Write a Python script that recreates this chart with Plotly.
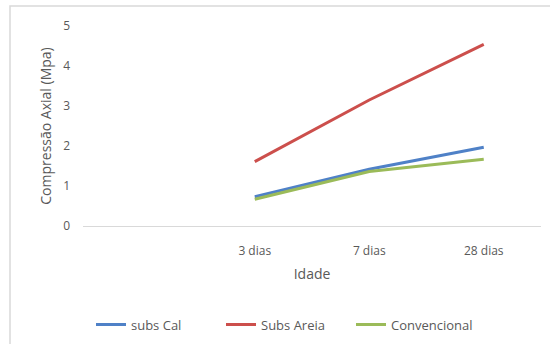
import plotly.graph_objects as go

# Idades de ensaio (a primeira posição fica vazia no eixo)
categorias = [" ", "3 dias", "7 dias", "28 dias"]
idades = ["3 dias", "7 dias", "28 dias"]

# Resistência à compressão axial (MPa)
subs_cal = [0.73, 1.42, 1.97]
subs_areia = [1.61, 3.15, 4.54]
convencional = [0.67, 1.36, 1.67]

series = [
    ("subs Cal", subs_cal, "#4F81C7"),
    ("Subs Areia", subs_areia, "#CC4F4C"),
    ("Convencional", convencional, "#9BBB59"),
]

fonte = "'Open Sans', Lato, sans-serif"
cinza = "#595959"

fig = go.Figure()
for nome, valores, cor in series:
    fig.add_trace(go.Scatter(
        x=idades, y=valores, name=nome, mode="lines",
        line=dict(color=cor, width=3),
    ))

fig.update_layout(
    width=550, height=344,
    margin=dict(l=83, r=9, t=26, b=118, autoexpand=False),
    paper_bgcolor="white", plot_bgcolor="white",
    font=dict(family=fonte, size=12, color=cinza),
    showlegend=True,
    legend=dict(
        orientation="h", xref="container", x=0.52, xanchor="center",
        yref="container", y=0.1, yanchor="top",
        font=dict(size=13, color=cinza), itemwidth=30,
        entrywidth=85, entrywidthmode="pixels",
        traceorder="normal",
    ),
    xaxis=dict(
        type="category", categoryorder="array", categoryarray=categorias,
        range=[-0.5, 3.5], showgrid=False, zeroline=False, automargin=False,
        showline=True, linecolor="#D9D9D9", linewidth=1,
        ticks="", ticklabelstandoff=14, tickfont=dict(size=12, color=cinza),
        title=dict(text="Idade", font=dict(size=14, color=cinza), standoff=10),
    ),
    yaxis=dict(
        range=[0, 5], dtick=1, showgrid=False, zeroline=False, automargin=False,
        showline=False, ticks="", ticklabelstandoff=12,
        tickfont=dict(size=12, color=cinza),
        title=dict(text="Compressão Axial (Mpa)", font=dict(size=14, color=cinza), standoff=8),
    ),
    shapes=[dict(
        type="rect", xref="paper", yref="paper",
        x0=-73 / 458, x1=1.2, y0=-1.0, y1=1 + 20 / 200,
        line=dict(color="#D9D9D9", width=1.5), fillcolor="rgba(0,0,0,0)",
        layer="below",
    )],
)

fig.write_html("out.html")
